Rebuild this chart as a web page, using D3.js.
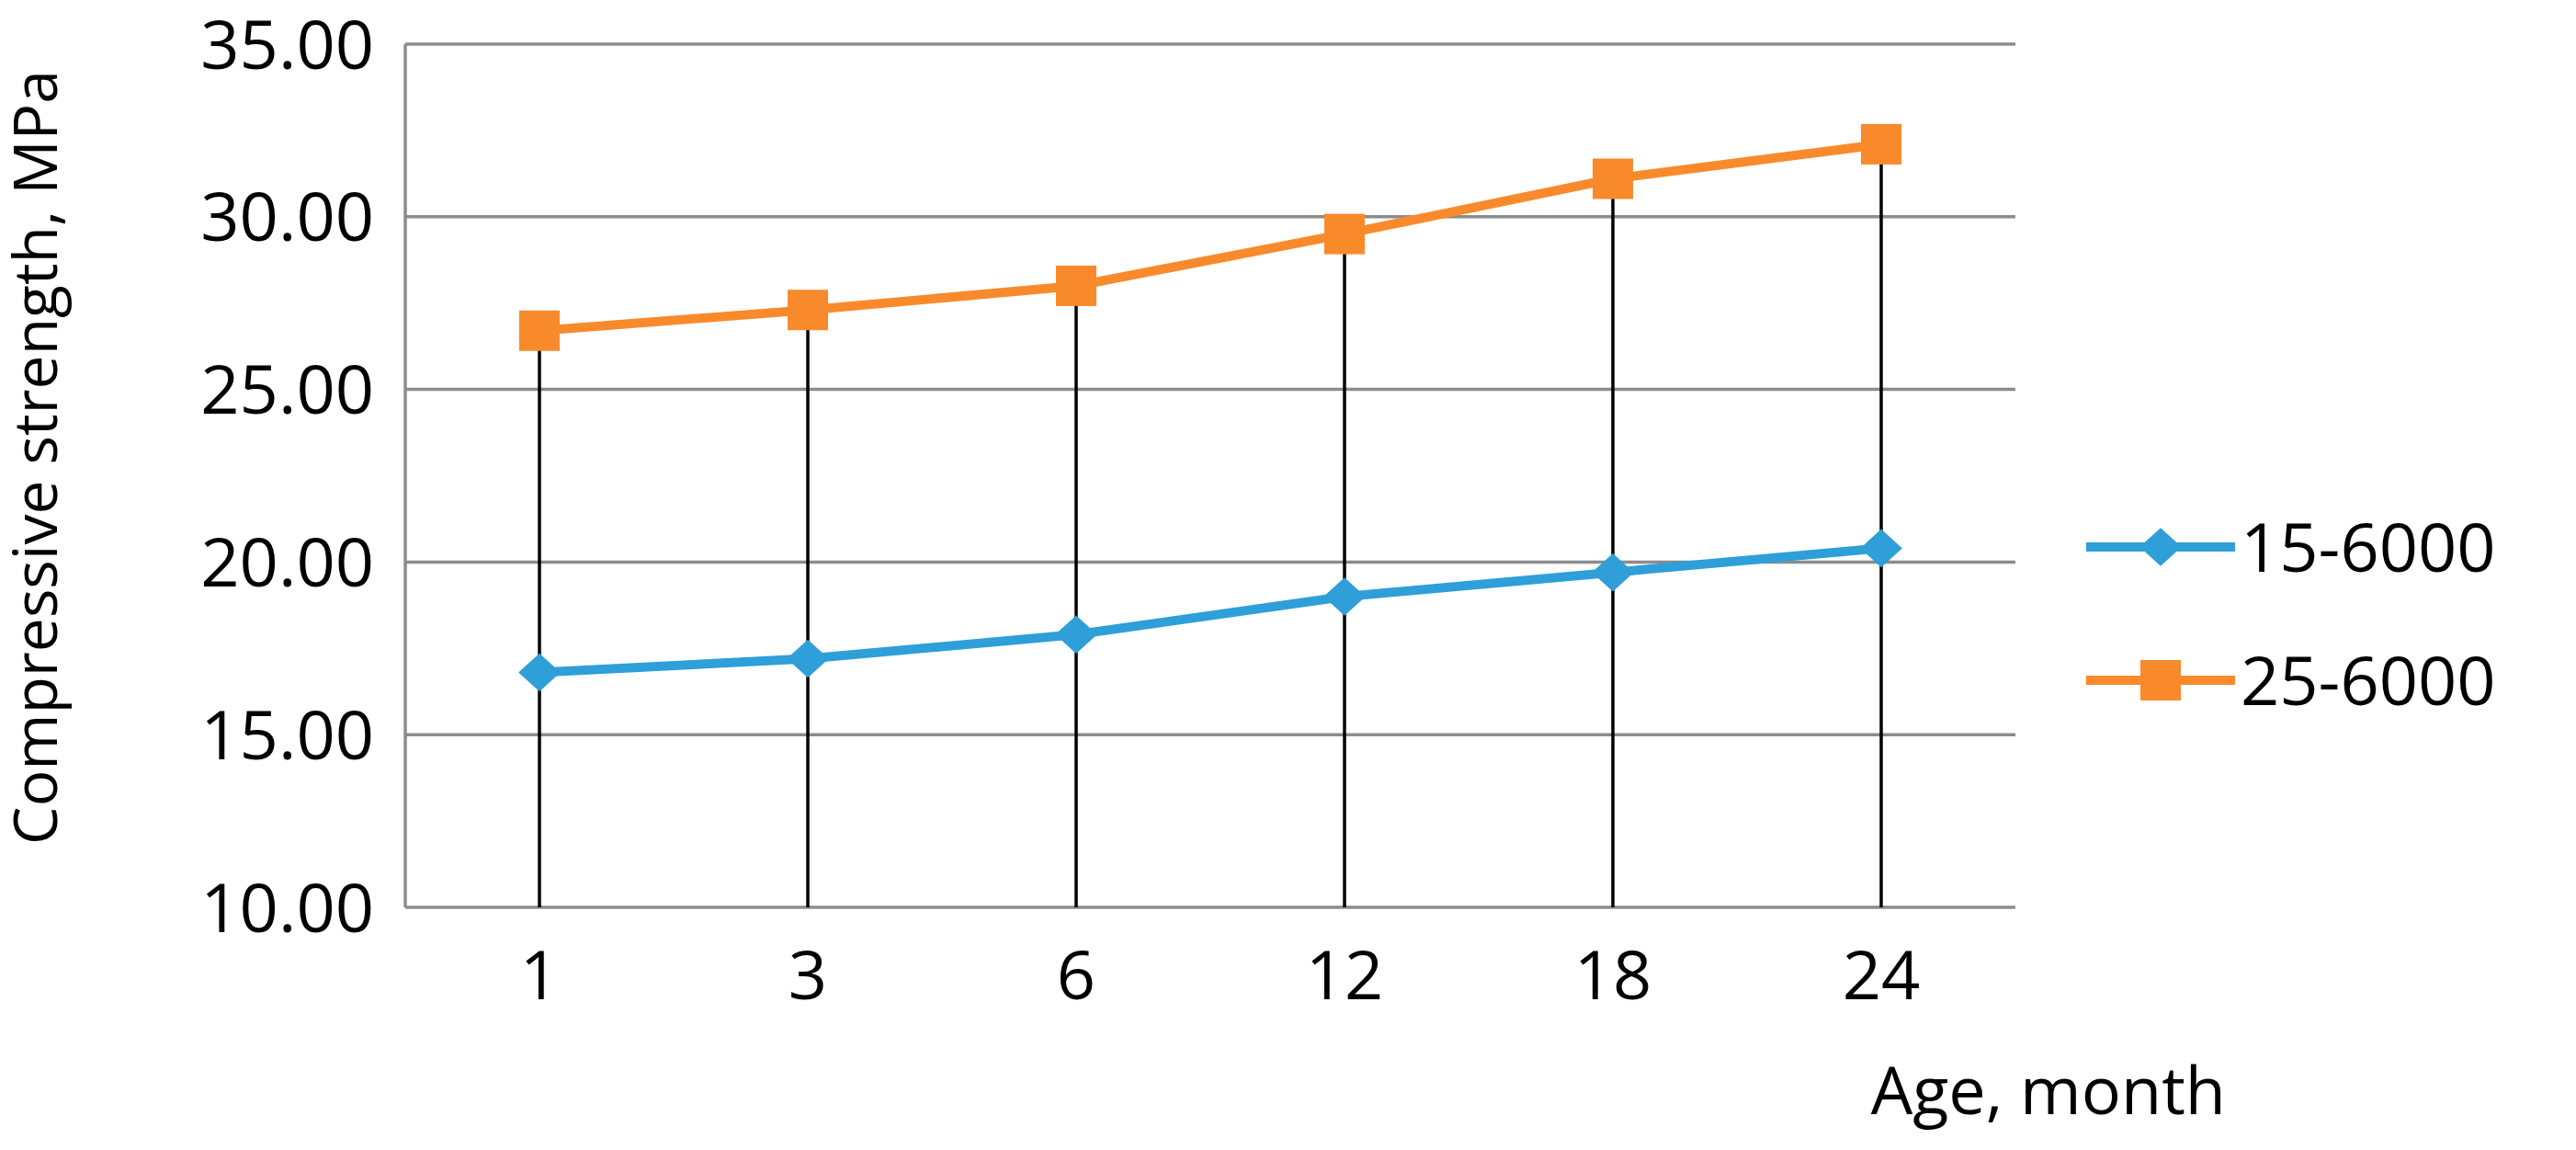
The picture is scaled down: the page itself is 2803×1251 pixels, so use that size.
<!DOCTYPE html>
<html>
<head>
<meta charset="utf-8">
<script src="https://cdn.jsdelivr.net/npm/d3@7"></script>
<style>
  body { margin: 0; background: #fff; }
  text { font-family: "Open Sans", sans-serif; fill: #000; }
</style>
</head>
<body>
<div id="chart"></div>
<script>
// Data
var ages = ["1", "3", "6", "12", "18", "24"];
var series15 = [16.8, 17.2, 17.9, 19.0, 19.7, 20.4];
var series25 = [26.7, 27.3, 28.0, 29.5, 31.1, 32.1];
var yTicks = [10, 15, 20, 25, 30, 35];
var seriesNames = ["15-6000", "25-6000"];
var seriesColors = ["#2e9fd8", "#f98a2c"];

var svgWidth = 2803, svgHeight = 1251;
var margin = { top: 48, right: 610, bottom: 264, left: 441 };
var width = svgWidth - margin.left - margin.right;
var height = svgHeight - margin.top - margin.bottom;

var svg = d3.select("#chart").append("svg")
  .attr("width", svgWidth)
  .attr("height", svgHeight);

var chartGroup = svg.append("g")
  .attr("transform", `translate(${margin.left}, ${margin.top})`);

var xScale = d3.scaleBand().domain(ages).range([0, width]);
var yScale = d3.scaleLinear().domain([10, 35]).range([height, 0]);
var xc = d => xScale(d) + xScale.bandwidth() / 2;

// gridlines
chartGroup.selectAll(".grid").data(yTicks).enter().append("line")
  .attr("x1", 0).attr("x2", width)
  .attr("y1", d => yScale(d)).attr("y2", d => yScale(d))
  .attr("stroke", "#8c8c8c").attr("stroke-width", 3.5);

// left axis line
chartGroup.append("line")
  .attr("x1", 0).attr("x2", 0).attr("y1", 0).attr("y2", height)
  .attr("stroke", "#8c8c8c").attr("stroke-width", 3.5);

// y tick labels
chartGroup.selectAll(".ylab").data(yTicks).enter().append("text")
  .attr("x", -34).attr("y", d => yScale(d)).attr("dy", "0.36em")
  .attr("text-anchor", "end").style("font-size", "74px")
  .text(d => d.toFixed(2));

// x tick labels
chartGroup.selectAll(".xlab").data(ages).enter().append("text")
  .attr("x", d => xc(d)).attr("y", height + 100)
  .attr("text-anchor", "middle").style("font-size", "74px")
  .text(d => d);

// high-low lines
chartGroup.selectAll(".hl").data(ages).enter().append("line")
  .attr("x1", d => xc(d)).attr("x2", d => xc(d))
  .attr("y1", height).attr("y2", (d, i) => yScale(series25[i]))
  .attr("stroke", "#000").attr("stroke-width", 3.5);

var line = d3.line().x((d, i) => xc(ages[i])).y(d => yScale(d));
[series15, series25].forEach(function (s, k) {
  chartGroup.append("path")
    .attr("d", line(s)).attr("fill", "none")
    .attr("stroke", seriesColors[k]).attr("stroke-width", 10);
});

function marker(g, k, x, y) {
  if (k === 0) {
    g.append("path")
      .attr("d", d3.symbol().type(d3.symbolDiamond2).size(1100)())
      .attr("transform", `translate(${x},${y}) scale(1.1,1)`)
      .attr("fill", seriesColors[0]);
  } else {
    g.append("rect")
      .attr("x", x - 22).attr("y", y - 22).attr("width", 44).attr("height", 44)
      .attr("fill", seriesColors[1]);
  }
}
[series15, series25].forEach(function (s, k) {
  s.forEach((v, i) => marker(chartGroup, k, xc(ages[i]), yScale(v)));
});

// axis titles
svg.append("text")
  .attr("transform", `translate(62, ${margin.top + height / 2 - 20}) rotate(-90)`)
  .attr("text-anchor", "middle").style("font-size", "66px")
  .text("Compressive strength, MPa");
svg.append("text")
  .attr("x", 2422).attr("y", 1212)
  .attr("text-anchor", "end").style("font-size", "72px")
  .text("Age, month");

// legend
var legendY = [595, 740];
seriesNames.forEach(function (name, k) {
  var lg = svg.append("g");
  lg.append("line")
    .attr("x1", 2270).attr("x2", 2432)
    .attr("y1", legendY[k]).attr("y2", legendY[k])
    .attr("stroke", seriesColors[k]).attr("stroke-width", 10);
  marker(lg, k, 2351, legendY[k]);
  lg.append("text")
    .attr("x", 2438).attr("y", legendY[k]).attr("dy", "0.36em")
    .style("font-size", "74px").text(name);
});
</script>
</body>
</html>
